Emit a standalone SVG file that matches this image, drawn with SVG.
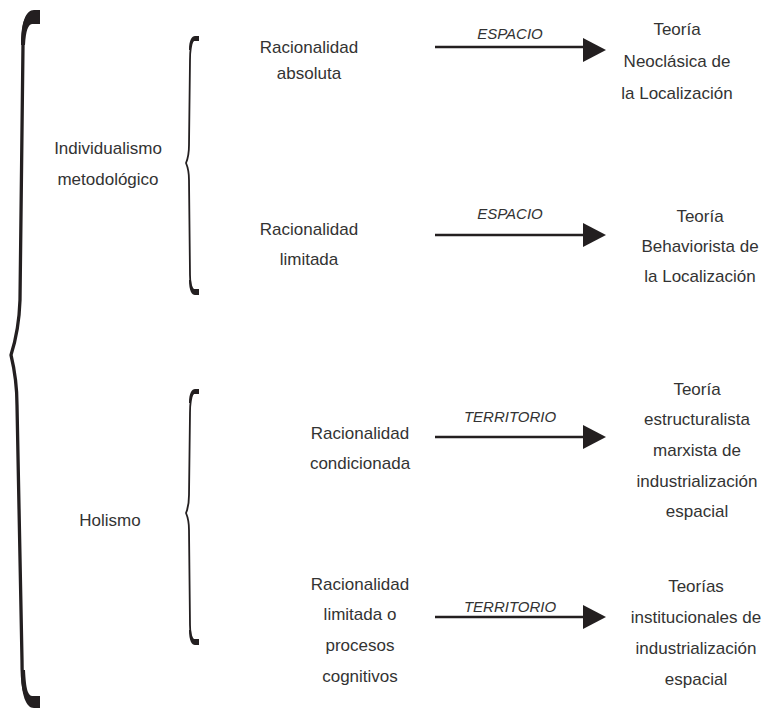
<svg xmlns="http://www.w3.org/2000/svg" width="762" height="715" viewBox="0 0 762 715">
<style>
  text { font-family: "Liberation Sans", Arial, sans-serif; font-size: 17px; fill: #333333; text-anchor: middle; }
  .lbl { font-style: italic; font-size: 15px; }
  .brace { fill: none; stroke: #231f20; stroke-linejoin: round; }
  .cap { fill: #231f20; }
  .conn { stroke: #231f20; stroke-width: 2.5; fill: none; }
  .head { fill: #231f20; }
</style>
<rect width="762" height="715" fill="#ffffff"/>

<g id="brace-main">
  <path class="brace" stroke-width="3.3" d="M30,14 C24,20 23,30 23,45 L20,300 Q19,330 11,355 Q17,380 17,405 L22,660 C22,685 24,695 30,702"/>
  <path class="cap" d="M40,10 L40,24 L32,24 C28,25 26,30 25,45 L21,45 C21,22 26,10 34,10 Z"/>
  <path class="cap" d="M40,708 L40,696 L32,696 C28,695 26,690 25,670 L21,670 C21,695 26,708 34,708 Z"/>
</g>
<g id="brace-individualismo">
  <path class="brace" stroke-width="1.8" d="M193,40 C191,44 190,50 190,60 L189,145 Q189,156 186,163 Q189,170 189,180 L190,275 C190,284 191,288 194,291"/>
  <path class="cap" d="M199,36 L199,41 L194,41 C192,42 191,45 191,50 L189,50 C189,40 192,36 195,36 Z"/>
  <path class="cap" d="M199,295 L199,289 L194,289 C192,288 191,285 191,280 L189,280 C189,291 192,295 195,295 Z"/>
</g>
<g id="brace-holismo">
  <path class="brace" stroke-width="1.8" d="M193,393 C191,397 190,403 190,413 L189,495 Q189,506 186,513 Q189,520 189,530 L190,625 C190,634 191,638 194,641"/>
  <path class="cap" d="M199,389 L199,394 L194,394 C192,395 191,398 191,403 L189,403 C189,393 192,389 195,389 Z"/>
  <path class="cap" d="M199,645 L199,639 L194,639 C192,638 191,635 191,630 L189,630 C189,641 192,645 195,645 Z"/>
</g>

<g id="connectors">
  <line class="conn" x1="435" y1="47" x2="586" y2="47"/>
  <polygon class="head" points="583,38 606,50 583,62"/>
  <line class="conn" x1="435" y1="235" x2="586" y2="235"/>
  <polygon class="head" points="583,223 606,235 583,247"/>
  <line class="conn" x1="435" y1="437" x2="586" y2="437"/>
  <polygon class="head" points="583,425 606,437 583,449"/>
  <line class="conn" x1="435" y1="617" x2="586" y2="617"/>
  <polygon class="head" points="583,605 606,617 583,629"/>
  <text class="lbl" x="510" y="39">ESPACIO</text>
  <text class="lbl" x="510" y="219">ESPACIO</text>
  <text class="lbl" x="510" y="422">TERRITORIO</text>
  <text class="lbl" x="510" y="612">TERRITORIO</text>
</g>

<g id="node-individualismo">
  <text x="108" y="154">Individualismo</text>
  <text x="108" y="185">metodológico</text>
</g>
<g id="node-holismo">
  <text x="110" y="526">Holismo</text>
</g>
<g id="node-rac-absoluta">
  <text x="309" y="53">Racionalidad</text>
  <text x="309" y="79">absoluta</text>
</g>
<g id="node-rac-limitada">
  <text x="309" y="235">Racionalidad</text>
  <text x="309" y="265">limitada</text>
</g>
<g id="node-rac-condicionada">
  <text x="360" y="439">Racionalidad</text>
  <text x="360" y="469">condicionada</text>
</g>
<g id="node-rac-cognitivos">
  <text x="360" y="590">Racionalidad</text>
  <text x="360" y="620">limitada o</text>
  <text x="360" y="651">procesos</text>
  <text x="360" y="682">cognitivos</text>
</g>
<g id="node-neoclasica">
  <text x="677" y="35">Teoría</text>
  <text x="677" y="67">Neoclásica de</text>
  <text x="677" y="99">la Localización</text>
</g>
<g id="node-behaviorista">
  <text x="700" y="222">Teoría</text>
  <text x="700" y="252">Behaviorista de</text>
  <text x="700" y="282">la Localización</text>
</g>
<g id="node-estructuralista">
  <text x="697" y="395">Teoría</text>
  <text x="697" y="425">estructuralista</text>
  <text x="697" y="456">marxista de</text>
  <text x="697" y="487">industrialización</text>
  <text x="697" y="517">espacial</text>
</g>
<g id="node-institucionales">
  <text x="696" y="592">Teorías</text>
  <text x="696" y="623">institucionales de</text>
  <text x="696" y="654">industrialización</text>
  <text x="696" y="685">espacial</text>
</g>
</svg>
